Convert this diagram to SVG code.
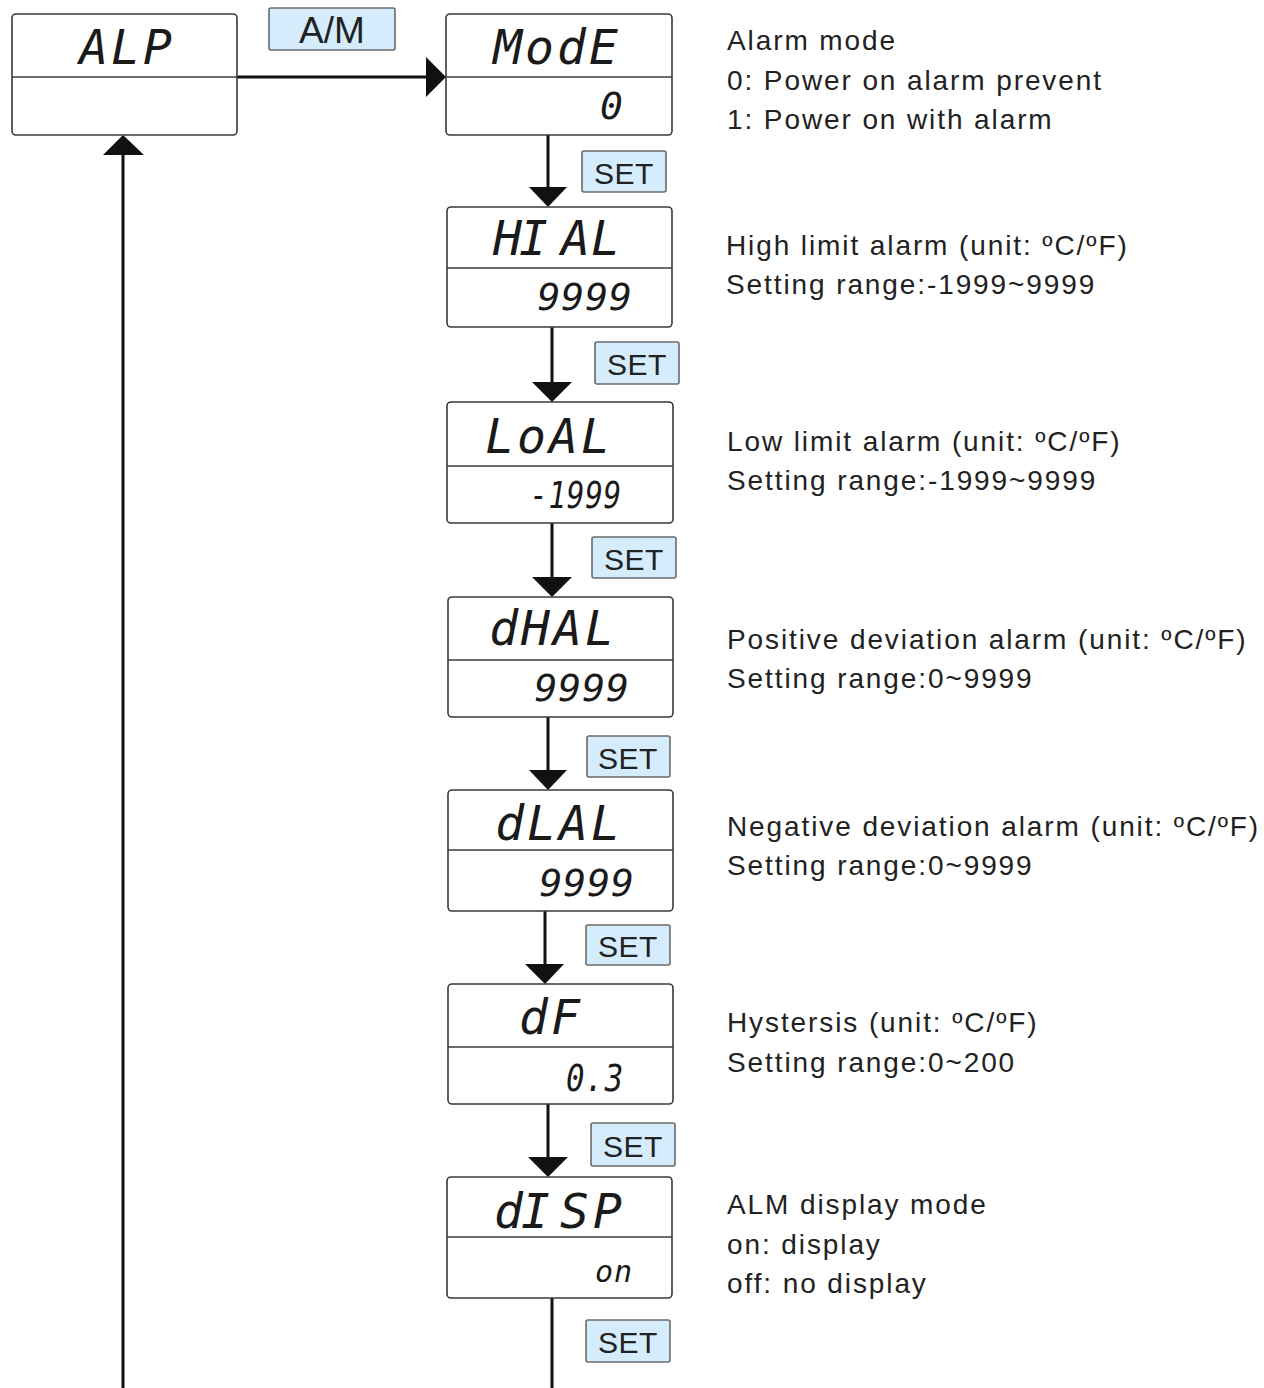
<svg xmlns="http://www.w3.org/2000/svg" width="1264" height="1388" viewBox="0 0 1264 1388">
<style>
.box{fill:#fff;stroke:#3a3a3a;stroke-width:1.6}
.div{stroke:#3a3a3a;stroke-width:1.4}
.seg{font-family:"DejaVu Sans Mono",monospace;font-style:italic;fill:#1a1a1a}
.top{font-size:48px;text-anchor:middle;letter-spacing:3px}
.topl{font-size:48px}
.bot{font-size:38px;text-anchor:end;letter-spacing:1px}
.key{fill:#d4ecfb;stroke:#6a6a6a;stroke-width:1.6}
.keyt{font-family:"Liberation Sans",Arial,sans-serif;font-size:30px;fill:#222;text-anchor:middle;letter-spacing:0.5px}
.desc{font-family:"Liberation Sans",Arial,sans-serif;font-size:28px;fill:#222;letter-spacing:1.9px}
.ln{stroke:#111;stroke-width:3;fill:none}
.ah{fill:#111}
</style>
<rect width="1264" height="1388" fill="#fff"/>
<g id="connectors">
<line class="ln" x1="237" y1="77" x2="427" y2="77"/><polygon class="ah" points="426,57 446,77 426,97"/>
<line class="ln" x1="548" y1="135" x2="548" y2="188"/><polygon class="ah" points="529,187 567,187 548,207"/>
<line class="ln" x1="552" y1="327" x2="552" y2="383"/><polygon class="ah" points="532,382 572,382 552,402"/>
<line class="ln" x1="552" y1="523" x2="552" y2="578"/><polygon class="ah" points="532,577 572,577 552,597"/>
<line class="ln" x1="548" y1="717" x2="548" y2="771"/><polygon class="ah" points="529,770 567,770 548,790"/>
<line class="ln" x1="545" y1="911" x2="545" y2="965"/><polygon class="ah" points="525,964 564,964 545,984"/>
<line class="ln" x1="548" y1="1104" x2="548" y2="1158"/><polygon class="ah" points="528,1157 568,1157 548,1177"/>
<line class="ln" x1="552" y1="1298" x2="552" y2="1388"/>
<line class="ln" x1="123" y1="1388" x2="123" y2="154"/><polygon class="ah" points="103,155 144,155 123,135"/>
</g>
<g id="n-alp"><rect class="box" x="12" y="14" width="225" height="121" rx="4"/><line class="div" x1="12" y1="77" x2="237" y2="77"/><text class="seg top" x="127" y="64">ALP</text></g>
<g id="k-am"><rect class="key" x="269" y="8" width="126" height="42" rx="2"/><text x="332" y="43" font-family="Liberation Sans,Arial,sans-serif" font-size="37" fill="#222" text-anchor="middle">A/M</text></g>
<g id="n-mode"><rect class="box" x="446" y="14" width="226" height="121" rx="4"/><line class="div" x1="446" y1="77" x2="672" y2="77"/><text class="seg top" x="557" y="64">ModE</text><text class="seg bot" x="624" y="119">0</text></g>
<g id="n-hial"><rect class="box" x="447" y="207" width="225" height="120" rx="4"/><line class="div" x1="447" y1="268" x2="672" y2="268"/><text class="seg topl" x="493 519 549 561 591" y="255">HI AL</text><text class="seg bot" x="633" y="310">9999</text></g>
<g id="n-loal"><rect class="box" x="447" y="402" width="226" height="121" rx="4"/><line class="div" x1="447" y1="466" x2="673" y2="466"/><text class="seg top" x="549" y="453">LoAL</text><text class="seg bot" x="622" y="508" textLength="92" lengthAdjust="spacingAndGlyphs">-1999</text></g>
<g id="n-dhal"><rect class="box" x="448" y="597" width="225" height="120" rx="4"/><line class="div" x1="448" y1="660" x2="673" y2="660"/><text class="seg top" x="553" y="645">dHAL</text><text class="seg bot" x="630" y="701">9999</text></g>
<g id="n-dlal"><rect class="box" x="448" y="790" width="225" height="121" rx="4"/><line class="div" x1="448" y1="850" x2="673" y2="850"/><text class="seg top" x="559" y="840">dLAL</text><text class="seg bot" x="635" y="896">9999</text></g>
<g id="n-df"><rect class="box" x="448" y="984" width="225" height="120" rx="4"/><line class="div" x1="448" y1="1047" x2="673" y2="1047"/><text class="seg top" x="551" y="1034">dF</text><text class="seg bot" x="624" y="1091" textLength="58" lengthAdjust="spacingAndGlyphs">0.3</text></g>
<g id="n-disp"><rect class="box" x="447" y="1177" width="225" height="121" rx="4"/><line class="div" x1="447" y1="1237" x2="672" y2="1237"/><text class="seg topl" x="494 521 548 560 593" y="1228">dI SP</text><text class="seg bot" x="633" y="1282" style="font-size:30px">on</text></g>
<g id="k-set1"><rect class="key" x="582" y="151" width="84" height="41" rx="2"/><text class="keyt" x="624" y="184">SET</text></g>
<g id="k-set2"><rect class="key" x="595" y="342" width="84" height="42" rx="2"/><text class="keyt" x="637" y="375">SET</text></g>
<g id="k-set3"><rect class="key" x="592" y="537" width="84" height="41" rx="2"/><text class="keyt" x="634" y="570">SET</text></g>
<g id="k-set4"><rect class="key" x="587" y="736" width="83" height="41" rx="2"/><text class="keyt" x="628" y="769">SET</text></g>
<g id="k-set5"><rect class="key" x="586" y="925" width="84" height="40" rx="2"/><text class="keyt" x="628" y="957">SET</text></g>
<g id="k-set6"><rect class="key" x="591" y="1123" width="84" height="43" rx="2"/><text class="keyt" x="633" y="1157">SET</text></g>
<g id="k-set7"><rect class="key" x="586" y="1320" width="84" height="42" rx="2"/><text class="keyt" x="628" y="1353">SET</text></g>
<g id="descriptions">
<text class="desc" x="727" y="50">Alarm mode</text>
<text class="desc" x="727" y="90">0: Power on alarm prevent</text>
<text class="desc" x="727" y="129">1: Power on with alarm</text>
<text class="desc" x="726" y="255">High limit alarm (unit: ºC/ºF)</text>
<text class="desc" x="726" y="294">Setting range:-1999~9999</text>
<text class="desc" x="727" y="451">Low limit alarm (unit: ºC/ºF)</text>
<text class="desc" x="727" y="490">Setting range:-1999~9999</text>
<text class="desc" x="727" y="649">Positive deviation alarm (unit: ºC/ºF)</text>
<text class="desc" x="727" y="688">Setting range:0~9999</text>
<text class="desc" x="727" y="836">Negative deviation alarm (unit: ºC/ºF)</text>
<text class="desc" x="727" y="875">Setting range:0~9999</text>
<text class="desc" x="727" y="1032">Hystersis (unit: ºC/ºF)</text>
<text class="desc" x="727" y="1072">Setting range:0~200</text>
<text class="desc" x="727" y="1214">ALM display mode</text>
<text class="desc" x="727" y="1254">on: display</text>
<text class="desc" x="727" y="1293">off: no display</text>
</g>
</svg>
